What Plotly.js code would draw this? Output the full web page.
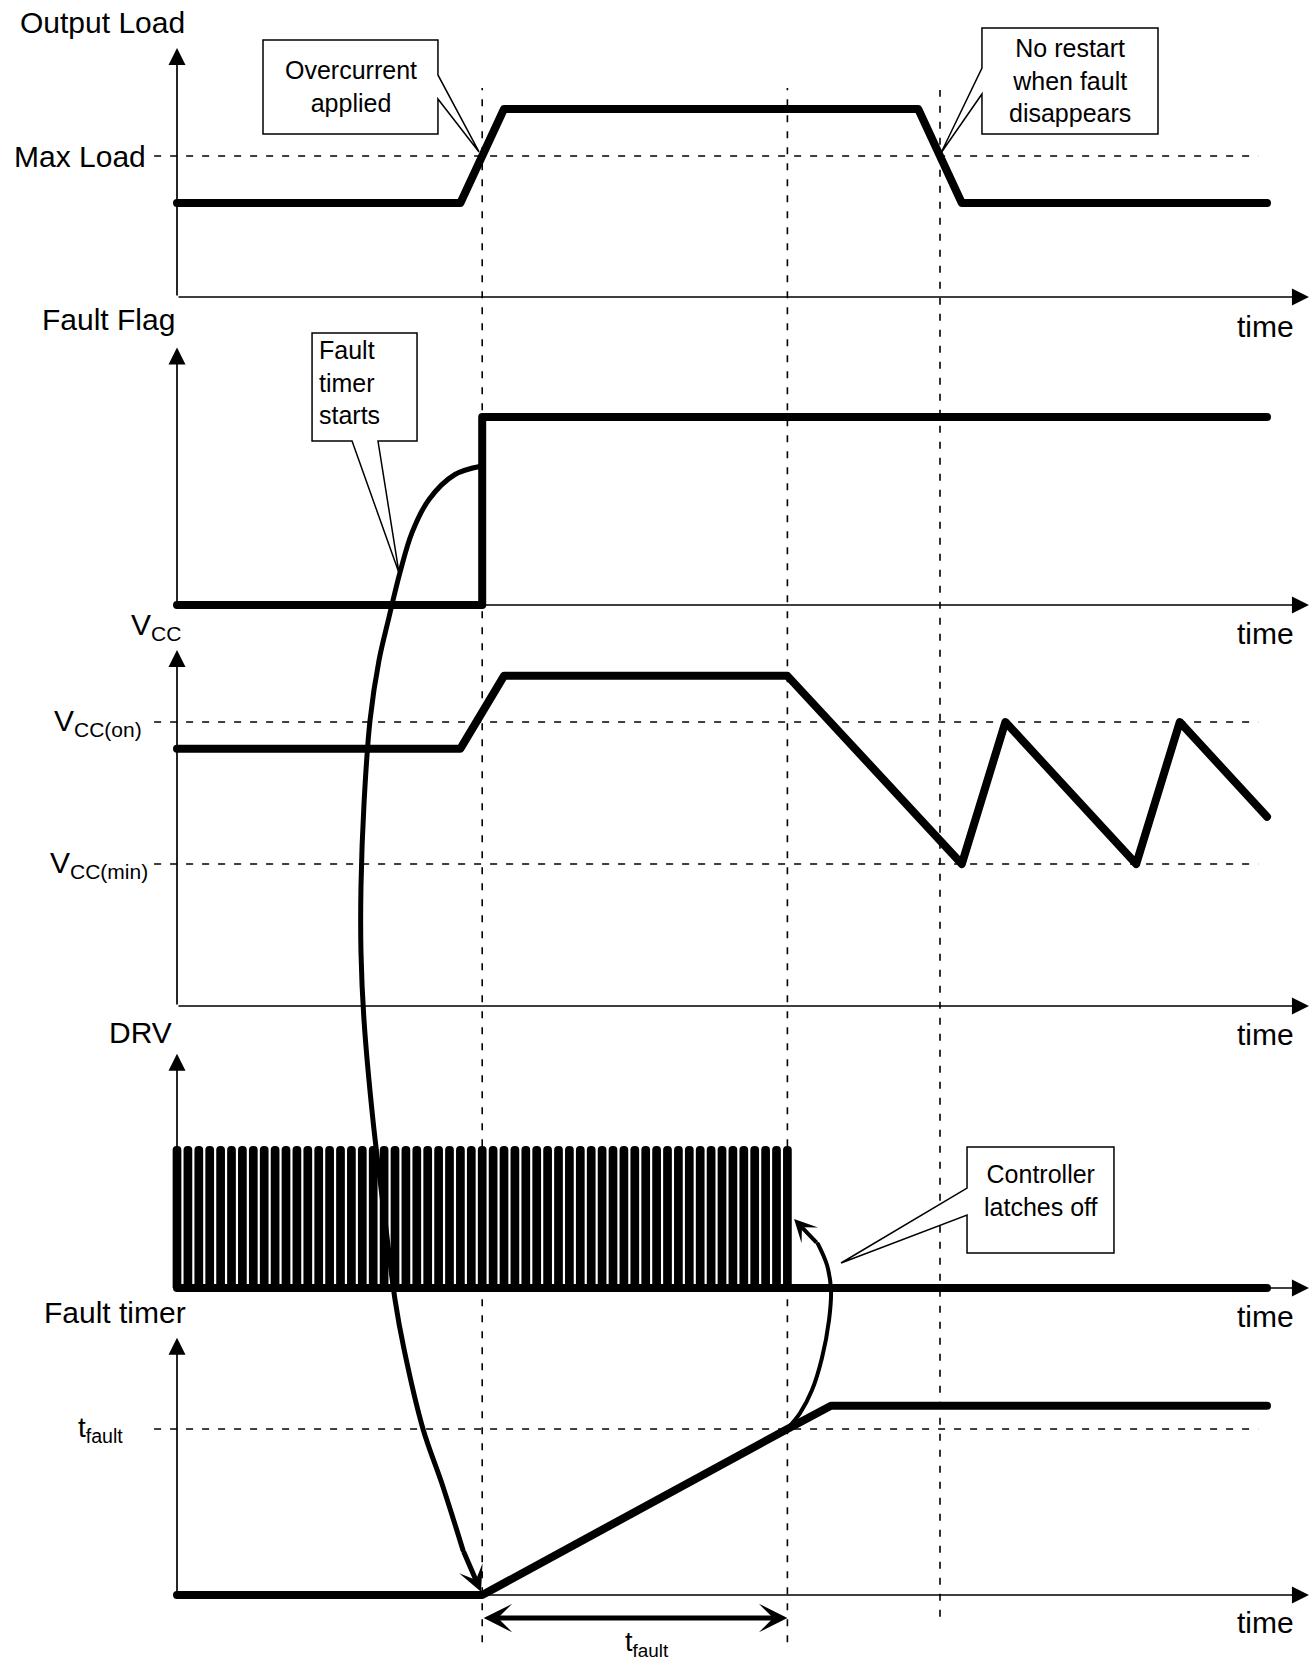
<!DOCTYPE html>
<html><head><meta charset="utf-8">
<script src="https://cdn.plot.ly/plotly-3.0.1.min.js"></script>
<style>
html,body{margin:0;padding:0;background:#fff;}
#chart{width:1315px;height:1661px;}
.js-line{stroke-linecap:round !important;stroke-linejoin:round !important;}
</style></head><body><div id="chart"></div>
<script>
// ===== DATA (time in DRV switching periods) =====
const loadT = [0, 26, 30, 68, 72, 100];
const loadV = [1, 1, 2, 2, 1, 1];
const maxLoad = 1.5;

const flagT = [0, 28, 28, 100];
const flagV = [0, 0, 1, 1];

const vccT = [0, 26, 30, 56, 72, 76, 88, 92, 100];
const vccV = [7.25, 7.25, 9.3, 9.3, 4, 8, 4, 8, 5.33];
const vccOn = 8;
const vccMin = 4;

const drvPulseT = [0,1,2,3,4,5,6,7,8,9,10,11,12,13,14,15,16,17,18,19,20,21,22,23,24,25,26,27,28,29,30,31,32,33,34,35,36,37,38,39,40,41,42,43,44,45,46,47,48,49,50,51,52,53,54,55,56];
const drvPulseV = [1,1,1,1,1,1,1,1,1,1,1,1,1,1,1,1,1,1,1,1,1,1,1,1,1,1,1,1,1,1,1,1,1,1,1,1,1,1,1,1,1,1,1,1,1,1,1,1,1,1,1,1,1,1,1,1,1];
const drvLowT = [0, 100];
const drvLowV = [0, 0];

const timerT = [0, 28, 56, 60, 100];
const timerV = [0, 0, 1, 1.14, 1.14];
const tFaultLevel = 1;

const eventTimes = [28, 56, 70];
const tFaultSpan = [28, 56];

// connector curves (fault-timer panel units)
const startCurveT = [27.89,25.50,23.12,21.56,20.46,19.45,18.53,17.71,17.16,16.88,16.88,17.16,17.98,19.08,20.00,20.83,22.57,24.31,26.24];
const startCurveV = [6.80,6.75,6.60,6.40,6.16,5.89,5.63,5.27,4.77,4.27,3.87,3.46,2.86,2.26,1.78,1.48,1.00,0.67,0.27];
const latchCurveT = [56.06,57.16,58.26,59.17,59.82,60.0,59.63,58.81];
const latchCurveV = [1.006,1.096,1.235,1.428,1.657,1.837,1.988,2.114];

const panelTitles = ['Output Load', 'Fault Flag', 'V<sub>CC</sub>', 'DRV', 'Fault timer'];
const levelLabels = ['Max Load', 'V<sub>CC(on)</sub>', 'V<sub>CC(min)</sub>', 't<sub>fault</sub>'];
const timeLabel = 'time';
const calloutTexts = ['Overcurrent<br>applied', 'No restart<br>when fault<br>disappears', 'Fault<br>timer<br>starts', 'Controller<br>latches off'];

// ===== LAYOUT GEOMETRY =====
const W = 1315, H = 1661, ORIGIN_PX = 177, PX_PER_T = 10.9;
const panels = [
  {ax:'y',  B:297,  P:94,   top:2.65,  timeY:-0.309},
  {ax:'y2', B:605,  P:188,  top:1.37,  timeY:-0.149},
  {ax:'y3', B:1006, P:35.5, top:10.03, timeY:-0.789},
  {ax:'y4', B:1288, P:142,  top:1.65,  timeY:-0.204},
  {ax:'y5', B:1595, P:166,  top:1.55,  timeY:-0.163}
];
const tAxisEnd = 103.85;
const FONT = 'Liberation Sans, Arial, Helvetica, sans-serif';
const BIG = 30, MID = 25;

const layout = {
  width: W, height: H, margin:{l:0,r:0,t:0,b:0},
  paper_bgcolor:'#fff', plot_bgcolor:'#fff', showlegend:false, hovermode:false,
  font:{family:FONT, color:'#000'},
  xaxis:{domain:[0,1], range:[-ORIGIN_PX/PX_PER_T, (W-ORIGIN_PX)/PX_PER_T], autorange:false, visible:false, fixedrange:true},
  shapes:[], annotations:[]
};
panels.forEach((p,i)=>{
  const key = i===0 ? 'yaxis' : 'yaxis'+(i+1);
  const ax = {range:[(p.B-H)/p.P, p.B/p.P], autorange:false, visible:false, fixedrange:true, anchor:'x'};
  if (i===0) ax.domain=[0,1]; else ax.overlaying='y';
  layout[key] = ax;
});

// axes with arrows
panels.forEach(p=>{
  layout.annotations.push({x:0, y:p.top, ax:0, ay:0, xref:'x', yref:p.ax, axref:'x', ayref:p.ax,
    text:'', showarrow:true, arrowhead:2, arrowsize:2, arrowwidth:1.7, arrowcolor:'#000'});
  layout.annotations.push({x:tAxisEnd, y:0, ax:0, ay:0, xref:'x', yref:p.ax, axref:'x', ayref:p.ax,
    text:'', showarrow:true, arrowhead:2, arrowsize:2, arrowwidth:1.7, arrowcolor:'#000'});
  layout.annotations.push({x:99.9, y:p.timeY, xref:'x', yref:p.ax, text:timeLabel, showarrow:false,
    font:{size:BIG, family:FONT}, xanchor:'center', yanchor:'middle'});
});

// panel titles
const titlePos = [[-6.79,2.915,'y'],[-6.33,1.516,'y2'],[-1.93,10.68,'y3'],[-3.39,1.796,'y4'],[-5.69,1.699,'y5']];
panelTitles.forEach((t,i)=>{
  layout.annotations.push({x:titlePos[i][0], y:titlePos[i][1], xref:'x', yref:titlePos[i][2], text:t,
    showarrow:false, font:{size:BIG, family:FONT}, xanchor:'center', yanchor:'middle'});
});

// dashed level lines + labels
const levels = [[maxLoad,'y',-2.66,BIG],[vccOn,'y3',-3.03,BIG],[vccMin,'y3',-2.48,BIG],[tFaultLevel,'y5',-4.77,28]];
const dash = '7px,9px';
levels.forEach((l,i)=>{
  layout.shapes.push({type:'line', xref:'x', yref:l[1], x0:-2.1, x1:99.2, y0:l[0], y1:l[0],
    line:{color:'#000', width:1.6, dash:dash}, layer:'below'});
  layout.annotations.push({x:l[2], y:l[0], xref:'x', yref:l[1], text:levelLabels[i], showarrow:false,
    font:{size:l[3], family:FONT}, xanchor:'right', yanchor:'middle'});
});

// vertical event lines
const vTops = [2.223, 2.223, 2.202];
const vBots = [-14.31, -14.31, -14.04];
eventTimes.forEach((t,i)=>{
  layout.shapes.push({type:'line', xref:'x', yref:'y', x0:t, x1:t, y0:vBots[i], y1:vTops[i],
    line:{color:'#000', width:1.6, dash:dash}, layer:'below'});
});

// callouts
function pathOf(pts){ return 'M' + pts.map(p=>p[0]+','+p[1]).join(' L') + ' Z'; }
const callouts = [
  {yref:'y',  pts:[[7.89,2.734],[23.94,2.734],[23.94,2.362],[27.71,1.543],[23.94,2.106],[23.94,1.734],[7.89,1.734]],
   tx:15.92, ty:2.239, anchor:'center'},
  {yref:'y',  pts:[[73.85,2.862],[90.0,2.862],[90.0,1.734],[73.85,1.734],[73.85,2.160],[70.09,1.532],[73.85,2.436]],
   tx:81.93, ty:2.298, anchor:'center'},
  {yref:'y2', pts:[[12.39,1.447],[22.02,1.447],[22.02,0.872],[18.44,0.872],[20.37,0.170],[16.06,0.872],[12.39,0.872]],
   tx:12.80, ty:1.181, anchor:'left'},
  {yref:'y4', pts:[[72.48,0.993],[85.96,0.993],[85.96,0.246],[72.48,0.246],[72.48,0.514],[60.92,0.176],[72.48,0.704]],
   tx:79.22, ty:0.690, anchor:'center'}
];
callouts.forEach((c,i)=>{
  layout.shapes.push({type:'path', xref:'x', yref:c.yref, path:pathOf(c.pts),
    line:{color:'#000', width:1.5}, fillcolor:'#fff', layer:'above'});
  layout.annotations.push({x:c.tx, y:c.ty, xref:'x', yref:c.yref, text:calloutTexts[i], showarrow:false,
    font:{size:MID, family:FONT}, xanchor:c.anchor, align:c.anchor, yanchor:'middle'});
});

// connector arrowheads
layout.annotations.push({x:27.89, y:0.02, ax:26.24, ay:0.27, xref:'x', yref:'y5', axref:'x', ayref:'y5',
  text:'', showarrow:true, arrowhead:3, arrowsize:0.85, arrowwidth:5, arrowcolor:'#000'});
layout.annotations.push({x:56.61, y:2.265, ax:58.81, ay:2.114, xref:'x', yref:'y5', axref:'x', ayref:'y5',
  text:'', showarrow:true, arrowhead:3, arrowsize:0.95, arrowwidth:4, arrowcolor:'#000'});

// t_fault dimension
layout.annotations.push({x:tFaultSpan[1], y:-0.139, ax:tFaultSpan[0], ay:-0.139, xref:'x', yref:'y5', axref:'x', ayref:'y5',
  text:'', showarrow:true, arrowside:'end+start', arrowhead:3, startarrowhead:3, arrowsize:0.95, startarrowsize:0.95,
  arrowwidth:5, arrowcolor:'#000'});
layout.annotations.push({x:43.1, y:-0.295, xref:'x', yref:'y5', text:levelLabels[3], showarrow:false,
  font:{size:27, family:FONT}, xanchor:'center', yanchor:'middle'});

// ===== TRACES =====
const SIG = {color:'#000', width:8};
const traces = [
  {type:'bar', x:drvPulseT, y:drvPulseV, width:0.8, xaxis:'x', yaxis:'y4',
   marker:{color:'#000', cornerradius:'50%', line:{width:0}}},
  {type:'scatter', mode:'lines', x:loadT, y:loadV, xaxis:'x', yaxis:'y', line:SIG},
  {type:'scatter', mode:'lines', x:flagT, y:flagV, xaxis:'x', yaxis:'y2', line:SIG},
  {type:'scatter', mode:'lines', x:vccT, y:vccV, xaxis:'x', yaxis:'y3', line:SIG},
  {type:'scatter', mode:'lines', x:drvLowT, y:drvLowV, xaxis:'x', yaxis:'y4', line:SIG},
  {type:'scatter', mode:'lines', x:timerT, y:timerV, xaxis:'x', yaxis:'y5', line:SIG},
  {type:'scatter', mode:'lines', x:startCurveT, y:startCurveV, xaxis:'x', yaxis:'y5',
   line:{color:'#000', width:5, shape:'spline', smoothing:1}},
  {type:'scatter', mode:'lines', x:latchCurveT, y:latchCurveV, xaxis:'x', yaxis:'y5',
   line:{color:'#000', width:4, shape:'spline', smoothing:1}}
];

Plotly.newPlot('chart', traces, layout, {staticPlot:true, displayModeBar:false});
</script></body></html>
